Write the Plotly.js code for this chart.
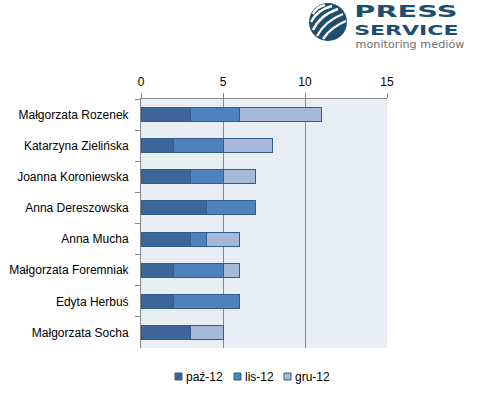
<!DOCTYPE html>
<html>
<head>
<meta charset="utf-8">
<script src="https://cdn.plot.ly/plotly-3.0.1.min.js"></script>
<style>body{margin:0;padding:0;background:#fff;}#chart{width:477px;height:397px;}</style>
</head>
<body>
<div id="chart"></div>
<script>
var categories = ["Małgorzata Rozenek","Katarzyna Zielińska","Joanna Koroniewska","Anna Dereszowska","Anna Mucha","Małgorzata Foremniak","Edyta Herbuś","Małgorzata Socha"];
var seriesNames = ["paź-12","lis-12","gru-12"];
var paz12 = [3,2,3,4,3,2,2,3];
var lis12 = [3,3,2,3,1,3,4,0];
var gru12 = [5,3,2,0,2,1,0,2];
var xTicks = [0,5,10,15];
var colors = ["#3C6697","#4F81BD","#A8B8D8"];

var W = 477, H = 397, L = 141, R = 90, T = 99, B = 49;
var pw = W - L - R, ph = H - T - B;
function px(x){ return (x - L) / pw; }
function py(y){ return (H - B - y) / ph; }

var values = [paz12, lis12, gru12];
var data = values.map(function(v, i){
  return {
    type: 'bar', orientation: 'h', name: seriesNames[i],
    y: categories, x: v,
    marker: {color: colors[i], line: {color: '#2F5C8F', width: 1}},
    hoverinfo: 'x+name', showlegend: false
  };
});

var shapes = [];
var annotations = [];

// legend (drawn as squares + labels from the series arrays)
var legendSquareX = [175, 234, 284];
seriesNames.forEach(function(name, i){
  var x0 = legendSquareX[i];
  shapes.push({type:'rect', xref:'paper', yref:'paper', x0:px(x0), x1:px(x0+7), y0:py(380), y1:py(373), fillcolor:colors[i], line:{color:'#2F5C8F', width:1}});
  annotations.push({text:name, xref:'paper', yref:'paper', x:px(x0+9), y:py(376.5), xanchor:'left', yanchor:'middle', showarrow:false, font:{size:12, color:'#000000'}});
});

// logo circle
shapes.push({type:'circle', xref:'paper', yref:'paper', x0:px(309), x1:px(347), y0:py(41), y1:py(3), fillcolor:'#1E4D6E', line:{width:0}, layer:'above'});
var stripes = [
  [[313,14],[316,7],[325,5]],
  [[311,22],[317,10],[332,6]],
  [[313,30],[320,15],[338,9]],
  [[317,36],[325,21],[343,14]],
  [[323,39],[331,27],[346,21]]
];
stripes.forEach(function(s){
  var p = 'M ' + px(s[0][0]) + ',' + py(s[0][1]) + ' Q ' + px(s[1][0]) + ',' + py(s[1][1]) + ' ' + px(s[2][0]) + ',' + py(s[2][1]);
  shapes.push({type:'path', xref:'paper', yref:'paper', path:p, line:{color:'#ffffff', width:2.4}, layer:'above'});
});

annotations.push(
  {text:'<b>PRESS</b>', xref:'paper', yref:'paper', x:px(406), y:py(12.3), xanchor:'center', yanchor:'middle', showarrow:false, borderpad:0, font:{family:'DejaVu Sans', size:15, color:'#1E4D6E'}},
  {text:'<b>SERVICE</b>', xref:'paper', yref:'paper', x:px(406), y:py(29.6), xanchor:'center', yanchor:'middle', showarrow:false, borderpad:0, font:{family:'DejaVu Sans', size:14.5, color:'#1E4D6E'}},
  {text:'monitoring mediów', xref:'paper', yref:'paper', x:px(410), y:py(44.3), xanchor:'center', yanchor:'middle', showarrow:false, borderpad:0, font:{family:'DejaVu Sans', size:10.5, color:'#6E6E6E'}}
);

var layout = {
  width: W, height: H,
  margin: {l: L, r: R, t: T, b: B, pad: 0},
  paper_bgcolor: '#ffffff', plot_bgcolor: '#E9EDF4',
  barmode: 'stack', bargap: 0.55,
  font: {family: 'Liberation Sans', size: 12, color: '#000000'},
  showlegend: false,
  xaxis: {
    side: 'top', range: [0, 15], tickvals: xTicks, ticktext: xTicks.map(String),
    showgrid: true, gridcolor: '#878787', gridwidth: 1,
    showline: true, linecolor: '#878787', linewidth: 1,
    ticks: 'outside', ticklen: 5, tickcolor: '#878787',
    zeroline: false, fixedrange: true, tickfont: {size: 12}, ticklabelstandoff: 2
  },
  yaxis: {
    type: 'category', autorange: 'reversed',
    showline: true, linecolor: '#878787', linewidth: 1,
    ticks: 'outside', tickson: 'boundaries', ticklen: 5, tickcolor: '#878787',
    showgrid: false, zeroline: false, fixedrange: true, ticklabelstandoff: 9, tickfont: {size: 12}
  },
  shapes: shapes,
  annotations: annotations
};

Plotly.newPlot('chart', data, layout, {displayModeBar: false, staticPlot: true}).then(function(){
  var texts = document.querySelectorAll('.annotation-text');
  texts.forEach(function(t){
    var s = t.textContent;
    var k = null;
    if (s === 'PRESS') k = 1.92;
    if (s === 'SERVICE') k = 1.52;
    if (s === 'monitoring mediów') k = 1.07;
    if (k) {
      t.style.transformBox = 'fill-box';
      t.style.transformOrigin = 'center';
      t.style.transform = 'scaleX(' + k + ')';
    }
  });
});
</script>
</body>
</html>
